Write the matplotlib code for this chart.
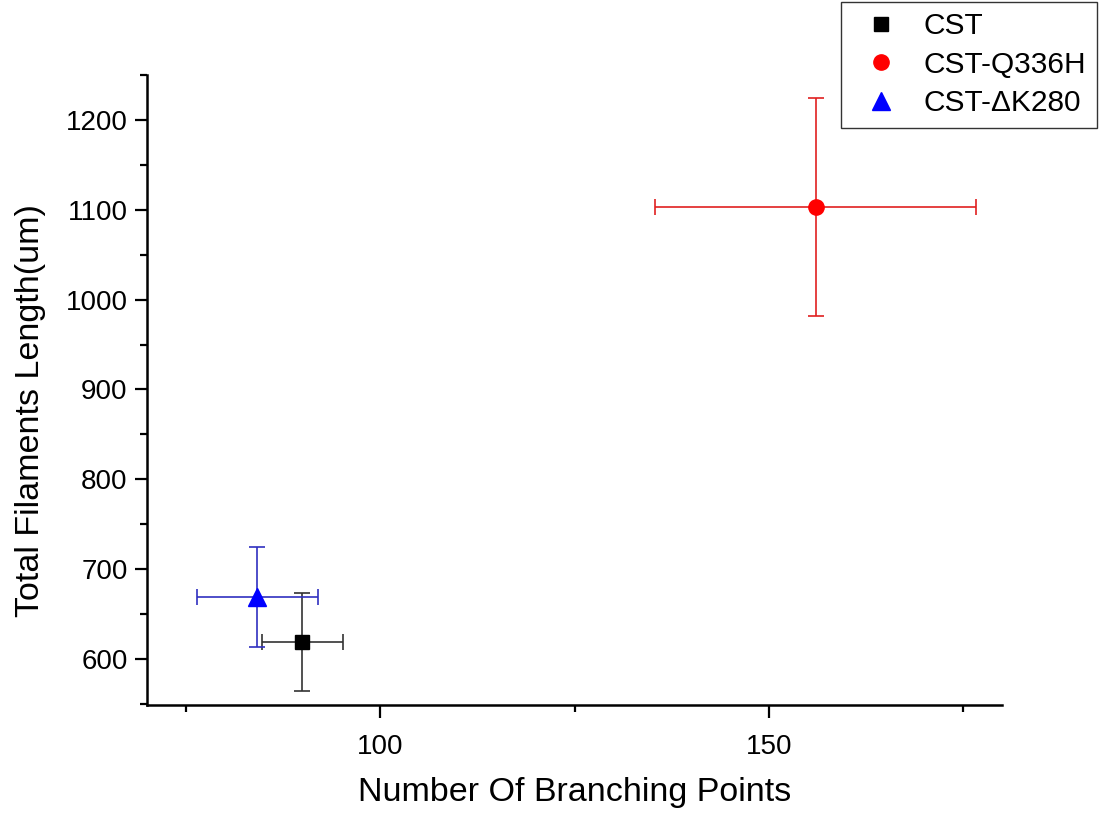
import matplotlib
matplotlib.use("Agg")
import matplotlib.pyplot as plt
from matplotlib.ticker import MultipleLocator

plt.rcParams['font.family'] = ['Liberation Sans', 'DejaVu Sans']

labels = ["CST", "CST-Q336H", "CST-\u0394K280"]
x_vals = [90.0, 156.0, 84.2]
y_vals = [619.0, 1103.0, 669.0]
x_err = [5.2, 20.7, 7.8]
y_err = [55.0, 121.0, 56.0]
colors = ["#000000", "#ff0000", "#0000ff"]
err_colors = ["#333333", "#e02020", "#3030c0"]
markers = ["s", "o", "^"]
msizes = [10, 11, 13]

fig = plt.figure(figsize=(11, 8.14), dpi=100)
ax = fig.add_axes([0.1336, 0.134, 0.911 - 0.1336, 0.908 - 0.134])

handles = []
for i in range(len(labels)):
    ax.errorbar(x_vals[i], y_vals[i], xerr=x_err[i], yerr=y_err[i], fmt='none',
                ecolor=err_colors[i], elinewidth=1.2, capsize=5.5, capthick=1.2, zorder=2)
    h, = ax.plot(x_vals[i], y_vals[i], linestyle='none', marker=markers[i],
                 markersize=msizes[i], color=colors[i], markeredgecolor=colors[i],
                 label=labels[i], zorder=3)
    handles.append(h)

ax.set_xlim(70, 180)
ax.set_ylim(549, 1250)
ax.xaxis.set_major_locator(MultipleLocator(50))
ax.xaxis.set_minor_locator(MultipleLocator(25))
ax.yaxis.set_major_locator(MultipleLocator(100))
ax.yaxis.set_minor_locator(MultipleLocator(50))

for s in ['top', 'right']:
    ax.spines[s].set_visible(False)
for s in ['left', 'bottom']:
    ax.spines[s].set_linewidth(1.8)

ax.tick_params(axis='both', which='major', direction='out', length=9, width=1.6,
               labelsize=20, pad=5)
ax.tick_params(axis='both', which='minor', direction='out', length=5, width=1.6)
ax.tick_params(axis='x', which='major', pad=12)

ax.set_xlabel("Number Of Branching Points", fontsize=24.5, labelpad=12)
ax.set_ylabel("Total Filaments Length(um)", fontsize=24.5)
ax.yaxis.set_label_coords(-0.118, 0.468)

leg = fig.legend(handles=handles, loc='upper right', bbox_to_anchor=(0.997, 0.9975),
                 borderaxespad=0, fontsize=21.5, frameon=True, fancybox=False,
                 edgecolor='black', handletextpad=0.43, borderpad=0.35,
                 labelspacing=0.35, handlelength=2.0)
leg.get_frame().set_linewidth(1.0)

fig.savefig("out.png", dpi=100)
